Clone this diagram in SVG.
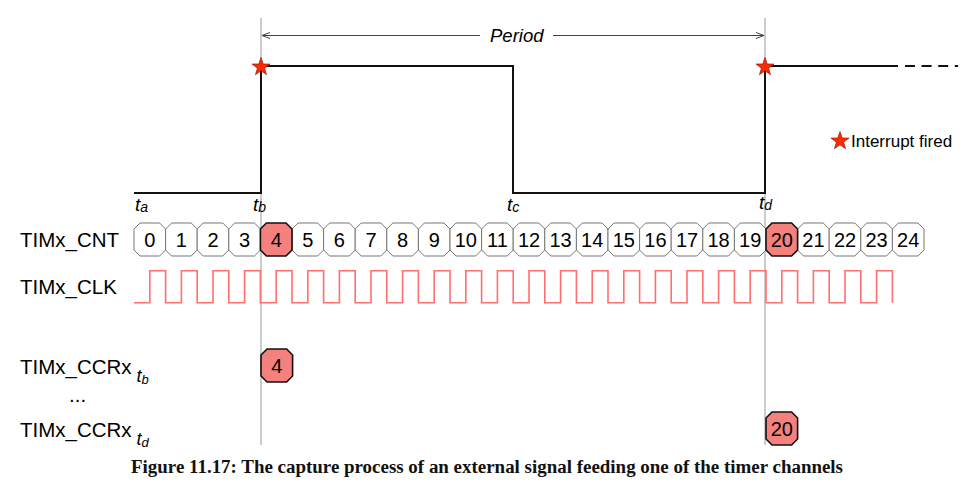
<svg xmlns="http://www.w3.org/2000/svg" width="963" height="491" viewBox="0 0 963 491">
<defs>
<style>
.lbl{font-family:"Liberation Sans",Arial,sans-serif;font-size:20.5px;fill:#000}
.num{font-family:"Liberation Sans",Arial,sans-serif;font-size:20px;fill:#000;text-anchor:middle}
.ital{font-family:"Liberation Sans",Arial,sans-serif;font-style:italic;fill:#000}
.cell{fill:#fff;stroke:#777;stroke-width:1}
.hcell{fill:#f4817d;stroke:#111;stroke-width:1.6}
.guide{stroke:#bbb;stroke-width:1.5;fill:none}
.sig{stroke:#111;stroke-width:2;fill:none}
.clk{stroke:#ff6f6f;stroke-width:1.6;fill:none}
.arr{stroke:#444;stroke-width:1;fill:none}
.star{fill:#ff2a00;stroke:#7a1000;stroke-width:0.6}
</style>
<path id="oct" d="M6,0 H25.6 L31.6,6 V27 L25.6,33 H6 L0,27 V6 Z"/>
<path id="star" d="M0,-9.5 L2.24,-3.07 L9.04,-2.94 L3.61,1.17 L5.58,7.69 L0,3.8 L-5.58,7.69 L-3.61,1.17 L-9.04,-2.94 L-2.24,-3.07 Z"/>
<marker id="ah" markerWidth="10" markerHeight="8" refX="9" refY="4" orient="auto-start-reverse" markerUnits="userSpaceOnUse">
<path d="M1,1 L9,4 L1,7" fill="none" stroke="#444" stroke-width="1"/>
</marker>
</defs>
<rect width="963" height="491" fill="#fff"/>

<g id="connectors">
<line class="guide" x1="261" y1="18" x2="261" y2="445"/>
<line class="guide" x1="765" y1="18" x2="765" y2="445"/>
<line class="arr" x1="480" y1="35.5" x2="262" y2="35.5" marker-end="url(#ah)"/>
<line class="arr" x1="553" y1="35.5" x2="764" y2="35.5" marker-end="url(#ah)"/>
<path class="sig" d="M134,193 H261 V66 H513 V193 H765 V66 H898"/>
<path class="sig" d="M905,66 H958" stroke-dasharray="10,6.6"/>
<path class="clk" d="M134,302.7
h15.8 v-32 h15.8 v32 h15.8 v-32 h15.8 v32 h15.8 v-32 h15.8 v32 h15.8 v-32 h15.8 v32
h15.8 v-32 h15.8 v32 h15.8 v-32 h15.8 v32 h15.8 v-32 h15.8 v32 h15.8 v-32 h15.8 v32
h15.8 v-32 h15.8 v32 h15.8 v-32 h15.8 v32 h15.8 v-32 h15.8 v32 h15.8 v-32 h15.8 v32
h15.8 v-32 h15.8 v32 h15.8 v-32 h15.8 v32 h15.8 v-32 h15.8 v32 h15.8 v-32 h15.8 v32
h15.8 v-32 h15.8 v32 h15.8 v-32 h15.8 v32 h15.8 v-32 h15.8 v32 h15.8 v-32 h15.8 v32
h15.8 v-32 h15.8 v32 h15.8 v-32 h15.8 v32 h15.8 v-32 h15.8 v32 h15.8 v-32 h15.8 v32"/>
</g>

<g id="period-label"><text class="ital" x="490" y="41.5" font-size="18.5">Period</text></g>

<g id="star-b"><use href="#star" class="star" x="261" y="67"/></g>
<g id="star-d"><use href="#star" class="star" x="765" y="67"/></g>

<g id="legend">
<use href="#star" class="star" x="840" y="141"/>
<text class="lbl" x="851" y="146.5" style="font-size:17px">Interrupt fired</text>
</g>

<g id="time-labels">
<text class="ital" x="135" y="210.5" font-size="19">t<tspan font-size="14" dy="1.5">a</tspan></text>
<text class="ital" x="253" y="210.5" font-size="19">t<tspan font-size="14" dy="1.5">b</tspan></text>
<text class="ital" x="507" y="210.5" font-size="19">t<tspan font-size="14" dy="1.5">c</tspan></text>
<text class="ital" x="759" y="208.5" font-size="19">t<tspan font-size="14" dy="1.5">d</tspan></text>
</g>

<g id="row-labels">
<text class="lbl" x="20" y="247">TIMx_CNT</text>
<text class="lbl" x="20" y="293.5">TIMx_CLK</text>
<text class="lbl" x="20" y="373.5">TIMx_CCRx</text>
<text class="ital" x="136.5" y="382" font-size="18">t<tspan font-size="13" dy="1.5">b</tspan></text>
<text class="lbl" x="69" y="402">...</text>
<text class="lbl" x="20" y="436.5">TIMx_CCRx</text>
<text class="ital" x="136.5" y="445" font-size="18">t<tspan font-size="13" dy="1.5">d</tspan></text>
</g>

<g id="cnt-cells">
<g id="c0"><use href="#oct" class="cell" x="134" y="223"/><text class="num" x="149.8" y="247">0</text></g>
<g id="c1"><use href="#oct" class="cell" x="165.6" y="223"/><text class="num" x="181.4" y="247">1</text></g>
<g id="c2"><use href="#oct" class="cell" x="197.2" y="223"/><text class="num" x="213" y="247">2</text></g>
<g id="c3"><use href="#oct" class="cell" x="228.8" y="223"/><text class="num" x="244.6" y="247">3</text></g>
<g id="c5"><use href="#oct" class="cell" x="292" y="223"/><text class="num" x="307.8" y="247">5</text></g>
<g id="c6"><use href="#oct" class="cell" x="323.6" y="223"/><text class="num" x="339.4" y="247">6</text></g>
<g id="c7"><use href="#oct" class="cell" x="355.2" y="223"/><text class="num" x="371" y="247">7</text></g>
<g id="c8"><use href="#oct" class="cell" x="386.8" y="223"/><text class="num" x="402.6" y="247">8</text></g>
<g id="c9"><use href="#oct" class="cell" x="418.4" y="223"/><text class="num" x="434.2" y="247">9</text></g>
<g id="c10"><use href="#oct" class="cell" x="450" y="223"/><text class="num" x="465.8" y="247">10</text></g>
<g id="c11"><use href="#oct" class="cell" x="481.6" y="223"/><text class="num" x="497.4" y="247">11</text></g>
<g id="c12"><use href="#oct" class="cell" x="513.2" y="223"/><text class="num" x="529" y="247">12</text></g>
<g id="c13"><use href="#oct" class="cell" x="544.8" y="223"/><text class="num" x="560.6" y="247">13</text></g>
<g id="c14"><use href="#oct" class="cell" x="576.4" y="223"/><text class="num" x="592.2" y="247">14</text></g>
<g id="c15"><use href="#oct" class="cell" x="608" y="223"/><text class="num" x="623.8" y="247">15</text></g>
<g id="c16"><use href="#oct" class="cell" x="639.6" y="223"/><text class="num" x="655.4" y="247">16</text></g>
<g id="c17"><use href="#oct" class="cell" x="671.2" y="223"/><text class="num" x="687" y="247">17</text></g>
<g id="c18"><use href="#oct" class="cell" x="702.8" y="223"/><text class="num" x="718.6" y="247">18</text></g>
<g id="c19"><use href="#oct" class="cell" x="734.4" y="223"/><text class="num" x="750.2" y="247">19</text></g>
<g id="c21"><use href="#oct" class="cell" x="797.6" y="223"/><text class="num" x="813.4" y="247">21</text></g>
<g id="c22"><use href="#oct" class="cell" x="829.2" y="223"/><text class="num" x="845" y="247">22</text></g>
<g id="c23"><use href="#oct" class="cell" x="860.8" y="223"/><text class="num" x="876.6" y="247">23</text></g>
<g id="c24"><use href="#oct" class="cell" x="892.4" y="223"/><text class="num" x="908.2" y="247">24</text></g>
<g id="c4"><use href="#oct" class="hcell" x="260.4" y="223"/><text class="num" x="276.2" y="247">4</text></g>
<g id="c20"><use href="#oct" class="hcell" x="766" y="223"/><text class="num" x="781.8" y="247">20</text></g>
</g>

<g id="ccr-b"><use href="#oct" class="hcell" x="261" y="349"/><text class="num" x="276.8" y="372.5">4</text></g>
<g id="ccr-d"><use href="#oct" class="hcell" x="766" y="412"/><text class="num" x="781.8" y="435.5">20</text></g>

<g id="caption"><text x="131" y="473" font-family="Liberation Serif, Times New Roman, serif" font-weight="bold" font-size="18.5" textLength="712" lengthAdjust="spacingAndGlyphs" fill="#111">Figure 11.17: The capture process of an external signal feeding one of the timer channels</text></g>
</svg>
